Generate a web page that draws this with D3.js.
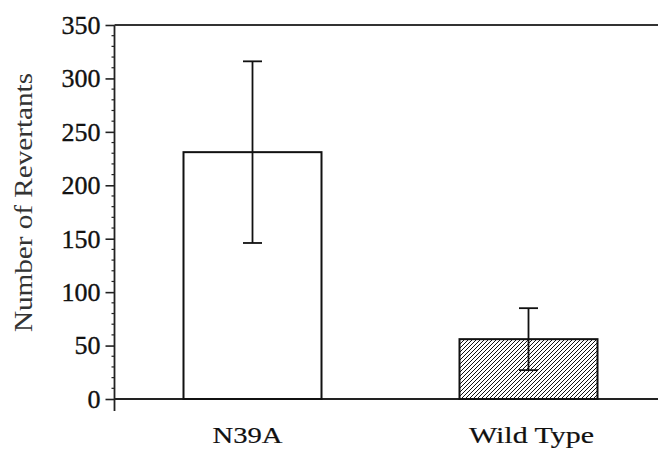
<!DOCTYPE html>
<html>
<head>
<meta charset="utf-8">
<script src="https://cdn.jsdelivr.net/npm/d3@7"></script>
<style>
body { margin: 0; background: #fff; }
</style>
</head>
<body>
<div id="chart"></div>
<script>
var categories = ["N39A", "Wild Type"];
var means = [231, 56];
var errors = [85, 29];
var yTicks = [0, 50, 100, 150, 200, 250, 300, 350];

var W = 658, H = 452;
var margin = {top: 25, left: 114.5, bottom: 53};
var y0 = H - margin.bottom;
var serif = "'Liberation Serif', 'Times New Roman', Times, serif";

var svg = d3.select("#chart").append("svg")
  .attr("width", W).attr("height", H);

var defs = svg.append("defs");
var pat = defs.append("pattern")
  .attr("id", "hatch")
  .attr("patternUnits", "userSpaceOnUse")
  .attr("width", 4).attr("height", 4);
pat.append("path")
  .attr("d", "M-1,1 l2,-2 M0,4 l4,-4 M3,5 l2,-2")
  .attr("stroke", "#111").attr("stroke-width", 1);

var x = d3.scaleBand()
  .domain(categories)
  .range([margin.left, margin.left + 552])
  .paddingInner(0.5)
  .paddingOuter(0.25);

var y = d3.scaleLinear()
  .domain([0, 350])
  .range([y0, margin.top]);

// minor ticks
var minor = d3.range(0, 351, 10).filter(function(d){ return d % 50 != 0; });
svg.append("g").selectAll("line")
  .data(minor).enter().append("line")
  .attr("x1", margin.left - 3).attr("x2", margin.left)
  .attr("y1", function(d){ return y(d); })
  .attr("y2", function(d){ return y(d); })
  .attr("stroke", "#222").attr("stroke-width", 1.2);

// y axis
var yAxis = svg.append("g")
  .attr("transform", "translate(" + margin.left + ",0)")
  .call(d3.axisLeft(y).tickValues(yTicks).tickSize(9).tickPadding(5).tickSizeOuter(0));
yAxis.select(".domain").remove();
yAxis.attr("font-family", null).attr("font-size", null);
yAxis.selectAll(".tick line").attr("stroke", "#222").attr("stroke-width", 1.6);
yAxis.selectAll("text")
  .style("font-family", serif)
  .style("font-size", "26px")
  .attr("fill", "#111")
  .attr("stroke", "#111").attr("stroke-width", 0.35);

svg.append("line")
  .attr("x1", margin.left).attr("x2", margin.left)
  .attr("y1", margin.top).attr("y2", y0 + 12)
  .attr("stroke", "#222").attr("stroke-width", 1.8);

// top frame and baseline
svg.append("line")
  .attr("x1", margin.left).attr("x2", W)
  .attr("y1", y(350)).attr("y2", y(350))
  .attr("stroke", "#333").attr("stroke-width", 1.8);
svg.append("line")
  .attr("x1", margin.left).attr("x2", W)
  .attr("y1", y(0)).attr("y2", y(0))
  .attr("stroke", "#222").attr("stroke-width", 1.8);

// bars
svg.append("g").selectAll("rect")
  .data(categories).enter().append("rect")
  .attr("x", function(d){ return x(d); })
  .attr("y", function(d, i){ return y(means[i]); })
  .attr("width", x.bandwidth())
  .attr("height", function(d, i){ return y(0) - y(means[i]); })
  .attr("fill", function(d, i){ return i == 1 ? "url(#hatch)" : "#fff"; })
  .attr("stroke", "#111").attr("stroke-width", 2);

// error bars
var eb = svg.append("g").selectAll("g")
  .data(categories).enter().append("g")
  .attr("stroke", "#111").attr("stroke-width", 1.8);
eb.append("line")
  .attr("x1", function(d){ return x(d) + x.bandwidth() / 2; })
  .attr("x2", function(d){ return x(d) + x.bandwidth() / 2; })
  .attr("y1", function(d, i){ return y(means[i] + errors[i]); })
  .attr("y2", function(d, i){ return y(means[i] - errors[i]); });
[1, -1].forEach(function(s){
  eb.append("line")
    .attr("x1", function(d){ return x(d) + x.bandwidth() / 2 - 9.5; })
    .attr("x2", function(d){ return x(d) + x.bandwidth() / 2 + 9.5; })
    .attr("y1", function(d, i){ return y(means[i] + s * errors[i]); })
    .attr("y2", function(d, i){ return y(means[i] + s * errors[i]); });
});

// category labels
svg.append("g").selectAll("text")
  .data(categories).enter().append("text")
  .attr("x", function(d){ return x(d) + x.bandwidth() / 2 - (d == "N39A" ? 5 : -3); })
  .attr("y", 443)
  .attr("text-anchor", "middle")
  .style("font-family", serif)
  .style("font-size", "24px")
  .attr("fill", "#111")
  .attr("stroke", "#111").attr("stroke-width", 0.2)
  .attr("textLength", function(d){ return d == "N39A" ? 70 : 125; })
  .attr("lengthAdjust", "spacingAndGlyphs")
  .text(function(d){ return d; });

// y title
svg.append("text")
  .attr("transform", "translate(32," + 202.5 + ") rotate(-90)")
  .attr("text-anchor", "middle")
  .style("font-family", serif)
  .style("font-size", "26px")
  .attr("fill", "#333")
  .attr("textLength", 259)
  .attr("lengthAdjust", "spacingAndGlyphs")
  .text("Number of Revertants");
</script>
</body>
</html>
